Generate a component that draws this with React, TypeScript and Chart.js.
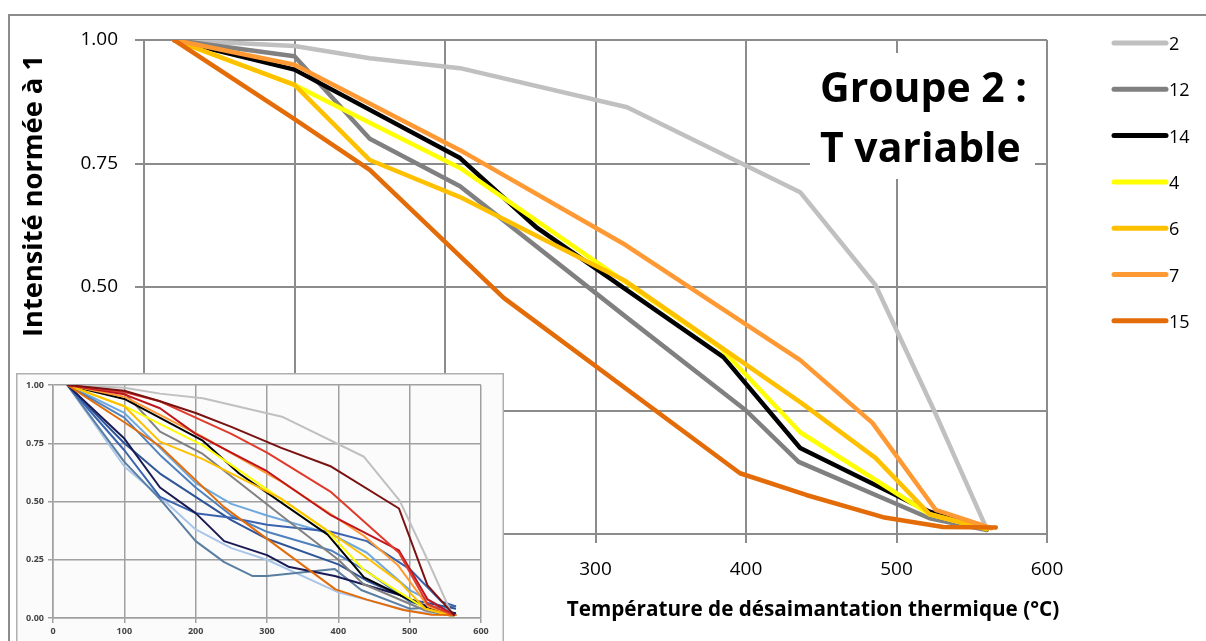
import React, { useEffect, useRef } from "react";
import { Chart, registerables } from "chart.js";
Chart.register(...registerables);

const FONT = "'Open Sans', 'Lato', sans-serif";

// ---- main chart (Groupe 2) ----
const seriesLabels = ["2", "12", "14", "4", "6", "7", "15"];
const seriesColors = ["#c0c0c0", "#808080", "#000000", "#ffff00", "#ffc000", "#ff9933", "#e36c09"];

const temps2 = [20, 100, 150, 210, 321, 436, 486, 525, 560];
const vals2 = [1, 0.988, 0.963, 0.943, 0.864, 0.692, 0.504, 0.25, 0.01];
const temps12 = [20, 100, 150, 210, 320, 400, 435, 522, 560];
const vals12 = [1, 0.967, 0.8, 0.704, 0.44, 0.25, 0.146, 0.032, 0.008];
const temps14 = [20, 100, 210, 261, 385, 436, 522, 560];
const vals14 = [1, 0.94, 0.761, 0.62, 0.358, 0.174, 0.045, 0.01];
const temps4 = [20, 100, 210, 383, 436, 522, 560];
const vals4 = [1, 0.909, 0.741, 0.377, 0.206, 0.04, 0.01];
const temps6 = [20, 100, 150, 210, 320, 436, 486, 522, 560];
const vals6 = [1, 0.909, 0.757, 0.682, 0.512, 0.267, 0.154, 0.04, 0.01];
const temps7 = [20, 100, 210, 320, 436, 484, 526, 563];
const vals7 = [1, 0.95, 0.777, 0.585, 0.352, 0.225, 0.049, 0.012];
const temps15 = [20, 100, 150, 239, 396, 440, 491, 531, 566];
const vals15 = [1, 0.84, 0.737, 0.478, 0.123, 0.079, 0.034, 0.014, 0.013];

const mainTemps = [temps2, temps12, temps14, temps4, temps6, temps7, temps15];
const mainVals = [vals2, vals12, vals14, vals4, vals6, vals7, vals15];

// ---- inset (all samples) ----
const tempsMaroon = [20, 100, 150, 200, 250, 320, 390, 485, 525, 563];
const valsMaroon = [1, 0.975, 0.93, 0.88, 0.82, 0.73, 0.65, 0.47, 0.14, 0.01];
const tempsRed1 = [20, 100, 150, 200, 250, 300, 390, 485, 525, 563];
const valsRed1 = [1, 0.97, 0.93, 0.86, 0.79, 0.71, 0.54, 0.28, 0.06, 0.01];
const tempsRed2 = [20, 100, 150, 200, 250, 300, 390, 485, 525, 563];
const valsRed2 = [1, 0.96, 0.9, 0.79, 0.71, 0.63, 0.44, 0.29, 0.08, 0.01];
const tempsNavy = [20, 100, 150, 200, 240, 300, 330, 395, 485, 540, 565];
const valsNavy = [1, 0.77, 0.56, 0.45, 0.33, 0.27, 0.22, 0.18, 0.1, 0.03, 0.02];
const tempsBlueFlat = [20, 100, 150, 200, 250, 300, 390, 440, 500, 545, 565];
const valsBlueFlat = [1, 0.72, 0.52, 0.45, 0.43, 0.4, 0.37, 0.33, 0.21, 0.07, 0.05];
const tempsLightBlue = [20, 100, 150, 200, 250, 300, 390, 440, 500, 563];
const valsLightBlue = [1, 0.88, 0.73, 0.58, 0.49, 0.44, 0.36, 0.28, 0.12, 0.02];
const tempsSteel = [20, 100, 150, 200, 240, 280, 300, 395, 432, 500, 565];
const valsSteel = [1, 0.67, 0.51, 0.33, 0.24, 0.18, 0.18, 0.21, 0.12, 0.04, 0.05];
const tempsPale = [20, 100, 150, 200, 250, 300, 400, 500, 563];
const valsPale = [1, 0.65, 0.52, 0.38, 0.3, 0.25, 0.11, 0.03, 0.01];
const tempsMedBlue = [20, 100, 150, 200, 250, 300, 390, 440, 500, 563];
const valsMedBlue = [1, 0.86, 0.7, 0.56, 0.44, 0.37, 0.29, 0.2, 0.07, 0.02];
const tempsBlue = [20, 100, 150, 200, 250, 300, 400, 440, 500, 565];
const valsBlue = [1, 0.75, 0.62, 0.52, 0.42, 0.34, 0.23, 0.16, 0.08, 0.04];

const insetTemps = [tempsPale, tempsSteel, tempsLightBlue, tempsMedBlue, tempsBlue, tempsBlueFlat, tempsNavy,
  ...mainTemps, tempsRed2, tempsRed1, tempsMaroon];
const insetVals = [valsPale, valsSteel, valsLightBlue, valsMedBlue, valsBlue, valsBlueFlat, valsNavy,
  ...mainVals, valsRed2, valsRed1, valsMaroon];
const insetColors = ["#a9c6e8", "#5a7ea0", "#6fa8dc", "#4f81bd", "#2e5597", "#3a64b0", "#1a1a55",
  ...seriesColors, "#c0141c", "#e03a2a", "#7a1212"];

const titleLines = ["Groupe 2 :", "T variable"];
const xTitle = "Température de désaimantation thermique (°C)";
const yTitle = "Intensité normée à 1";

function pts(t: number[], v: number[]) {
  return t.map((x, i) => ({ x, y: v[i] }));
}

function fitSize(ctx: CanvasRenderingContext2D, text: string, weight: string, target: number) {
  ctx.font = `${weight} 100px ${FONT}`;
  const w = ctx.measureText(text).width;
  return (100 * target) / w;
}

const GRID = "#8c8c8c";

const mainDecor = {
  id: "mainDecor",
  beforeDraw(chart: any) {
    const ctx = chart.ctx as CanvasRenderingContext2D;
    ctx.save();
    ctx.fillStyle = "#ffffff";
    ctx.fillRect(0, 0, chart.width, chart.height);
    ctx.strokeStyle = GRID;
    ctx.lineWidth = 2;
    ctx.beginPath();
    ctx.moveTo(9, 641);
    ctx.lineTo(9, 15);
    ctx.lineTo(1206, 15);
    ctx.stroke();
    ctx.restore();
  },
  beforeDatasetsDraw(chart: any) {
    const ctx = chart.ctx as CanvasRenderingContext2D;
    ctx.save();
    ctx.fillStyle = "#ffffff";
    ctx.fillRect(810, 53, 225, 126);
    const size = fitSize(ctx, titleLines[0], "bold", 207);
    ctx.font = `bold ${size}px ${FONT}`;
    ctx.fillStyle = "#000";
    ctx.textAlign = "left";
    ctx.textBaseline = "alphabetic";
    ctx.fillText(titleLines[0], 820, 102);
    ctx.fillText(titleLines[1], 820, 162);
    ctx.restore();
  },
  afterDraw(chart: any) {
    const ctx = chart.ctx as CanvasRenderingContext2D;
    ctx.save();
    ctx.fillStyle = "#000";
    // y title
    const ys = fitSize(ctx, yTitle, "bold", 282);
    ctx.font = `bold ${ys}px ${FONT}`;
    ctx.translate(34, 196);
    ctx.rotate(-Math.PI / 2);
    ctx.textAlign = "center";
    ctx.textBaseline = "middle";
    ctx.fillText(yTitle, 0, 0);
    ctx.setTransform(1, 0, 0, 1, 0, 0);
    // x title
    const xs = fitSize(ctx, xTitle, "bold", 493);
    ctx.font = `bold ${xs}px ${FONT}`;
    ctx.textAlign = "center";
    ctx.textBaseline = "alphabetic";
    ctx.fillText(xTitle, 813, 616);
    // legend
    ctx.font = `18px ${FONT}`;
    ctx.textAlign = "left";
    ctx.textBaseline = "middle";
    seriesLabels.forEach((lab, i) => {
      const y = 43 + i * 46.3;
      ctx.strokeStyle = seriesColors[i];
      ctx.lineWidth = 5;
      ctx.lineCap = "round";
      ctx.beginPath();
      ctx.moveTo(1114, y);
      ctx.lineTo(1166, y);
      ctx.stroke();
      ctx.fillStyle = "#000";
      ctx.fillText(lab, 1169, y + 2);
    });
    ctx.restore();
  },
};

const insetDecor = {
  id: "insetDecor",
  beforeDraw(chart: any) {
    const ctx = chart.ctx as CanvasRenderingContext2D;
    ctx.save();
    ctx.fillStyle = "#fbfbfb";
    ctx.fillRect(0, 0, chart.width, chart.height);
    ctx.strokeStyle = "#b0b0b0";
    ctx.lineWidth = 1.5;
    ctx.strokeRect(0.75, 0.75, chart.width - 1.5, chart.height + 10);
    ctx.restore();
  },
};

export default function App() {
  const mainRef = useRef<HTMLCanvasElement>(null);
  const insetRef = useRef<HTMLCanvasElement>(null);

  useEffect(() => {
    const n = seriesLabels.length;
    const main = new Chart(mainRef.current!, {
      type: "line",
      data: {
        datasets: seriesLabels.map((lab, i) => ({
          label: lab,
          data: pts(mainTemps[i], mainVals[i]),
          borderColor: seriesColors[i],
          backgroundColor: seriesColors[i],
          borderWidth: 4.5,
          pointRadius: 0,
          tension: 0,
          borderJoinStyle: "round" as const,
          borderCapStyle: "round" as const,
          order: n - i,
        })),
      },
      options: {
        responsive: false,
        animation: false,
        layout: { padding: { top: 40, right: 159, left: 0, bottom: 0 } },
        plugins: { legend: { display: false }, tooltip: { enabled: false } },
        scales: {
          x: {
            type: "linear",
            min: 0,
            max: 600,
            ticks: { stepSize: 100, color: "#000", font: { family: FONT, size: 19 }, padding: 15, maxRotation: 0 },
            grid: { color: GRID, lineWidth: 2, tickLength: 9 },
            border: { display: true, color: GRID, width: 2 },
            afterFit: (s: any) => { s.height = 107; },
          },
          y: {
            type: "linear",
            min: 0,
            max: 1,
            ticks: { stepSize: 0.25, color: "#000", font: { family: FONT, size: 19 }, padding: 17, callback: (v: any) => Number(v).toFixed(2) },
            grid: { color: GRID, lineWidth: 2, tickLength: 9 },
            border: { display: true, color: GRID, width: 2 },
            afterFit: (s: any) => { s.width = 144; },
          },
        },
      },
      plugins: [mainDecor],
    } as any);

    const m = insetColors.length;
    const inset = new Chart(insetRef.current!, {
      type: "line",
      data: {
        datasets: insetColors.map((c, i) => ({
          data: pts(insetTemps[i], insetVals[i]),
          borderColor: c,
          backgroundColor: c,
          borderWidth: 2,
          pointRadius: 0,
          tension: 0,
          borderJoinStyle: "round" as const,
          order: m - i,
        })),
      },
      options: {
        responsive: false,
        animation: false,
        layout: { padding: { top: 12, right: 23, left: 0, bottom: 0 } },
        plugins: { legend: { display: false }, tooltip: { enabled: false } },
        scales: {
          x: {
            type: "linear",
            min: 0,
            max: 600,
            ticks: { stepSize: 100, color: "#444", font: { family: FONT, size: 9, weight: "bold" }, padding: 3, maxRotation: 0 },
            grid: { color: "#a0a0a0", lineWidth: 1.5, tickLength: 5 },
            border: { display: true, color: "#a0a0a0", width: 1.5 },
            afterFit: (s: any) => { s.height = 23; },
          },
          y: {
            type: "linear",
            min: 0,
            max: 1,
            ticks: { stepSize: 0.25, color: "#444", font: { family: FONT, size: 9, weight: "bold" }, padding: 4, callback: (v: any) => Number(v).toFixed(2) },
            grid: { color: "#a0a0a0", lineWidth: 1.5, tickLength: 5 },
            border: { display: true, color: "#a0a0a0", width: 1.5 },
            afterFit: (s: any) => { s.width = 37; },
          },
        },
      },
      plugins: [insetDecor],
    } as any);

    return () => {
      main.destroy();
      inset.destroy();
    };
  }, []);

  return (
    <div style={{ position: "absolute", left: 0, top: 0, width: 1206, height: 641, overflow: "hidden", background: "#fff" }}>
      <canvas ref={mainRef} width={1206} height={641} style={{ position: "absolute", left: 0, top: 0 }} />
      <canvas ref={insetRef} width={488} height={268} style={{ position: "absolute", left: 16, top: 373 }} />
    </div>
  );
}
